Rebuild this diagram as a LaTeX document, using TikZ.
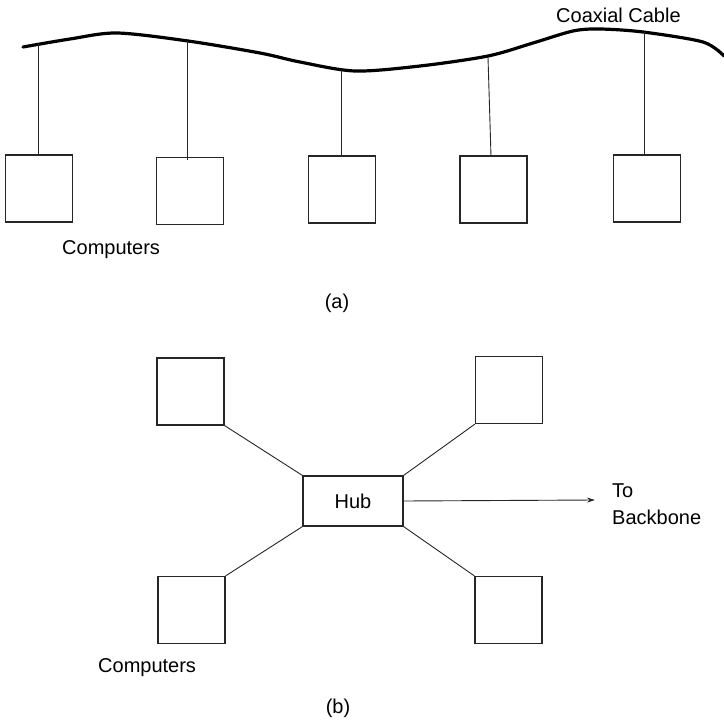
\documentclass[tikz,border=0pt]{standalone}
\usepackage{fontspec}
\setmainfont{Liberation Sans}
\usetikzlibrary{arrows.meta}
\begin{document}
\begin{tikzpicture}[x=1pt,y=-1pt,
  pc/.style={draw=black!85,line width=1.1pt,rectangle,inner sep=0pt,
             minimum width=67pt,minimum height=67pt},
  hubbox/.style={draw=black!85,line width=1.1pt,rectangle,inner sep=0pt,
             minimum width=100pt,minimum height=50pt,
             font=\fontsize{20}{24}\selectfont},
  lbl/.style={inner sep=0pt,font=\fontsize{20}{24}\selectfont},
  tap/.style={draw=black!85,line width=0.9pt},
  link/.style={draw=black!85,line width=0.9pt}]
\useasboundingbox (0,0) rectangle (724,720);

% ---------- (a) bus topology ----------
\draw[line width=3.2pt,line cap=round] plot[smooth,tension=0.5] coordinates
  {(23,47) (70,39) (117,33) (188,41) (260,53) (300,62) (355,71) (420,66)
   (488,56) (533,43) (573,31) (600,29) (643,32) (703,42) (724,56)};
\node[lbl,anchor=base west] (coax) at (556,22) {Coaxial Cable};

\node[pc] (a1) at (39,188.5) {};
\node[pc] (a2) at (190,191) {};
\node[pc] (a3) at (342,189.5) {};
\node[pc] (a4) at (493.5,189.5) {};
\node[pc] (a5) at (647,188.5) {};

\coordinate (t1) at (38,44);
\coordinate (t2) at (187,41);
\coordinate (t3) at (341,70);
\coordinate (t4) at (488,57);
\coordinate (t5) at (644,32);
\coordinate (e2) at (187,159.5);
\coordinate (e4) at (491,156);

\draw[tap] (t1) -- (t1 |- a1.north);
\draw[tap] (t2) -- (e2);
\draw[tap] (t3) -- (t3 |- a3.north);
\draw[tap] (t4) -- (e4);
\draw[tap] (t5) -- (t5 |- a5.north);

\node[lbl,anchor=base west] (compa) at (62,254) {Computers};
\node[lbl,anchor=base] (capa) at (337,308) {(a)};

% ---------- (b) star topology ----------
\node[hubbox] (hub) at (353,501) {Hub};
\node[pc] (tl) at (190.5,391.5) {};
\node[pc] (tr) at (509,390) {};
\node[pc] (bl) at (191.5,610) {};
\node[pc] (br) at (508.5,610) {};

\draw[link] (tl.south east) -- (hub.north west);
\draw[link] (tr.south west) -- (hub.north east);
\draw[link] (bl.north east) -- (hub.south west);
\draw[link] (br.north west) -- (hub.south east);

\coordinate (bb) at (595,500);
\draw[link,-{Stealth[length=8pt,width=5pt]}] (hub.east) -- (bb);

\node[lbl,anchor=base west] (to) at (612,497) {To};
\node[lbl,anchor=base west] (backbone) at (612,524) {Backbone};

\node[lbl,anchor=base west] (compb) at (98,672) {Computers};
\node[lbl,anchor=base] (capb) at (338,713) {(b)};
\end{tikzpicture}
\end{document}
